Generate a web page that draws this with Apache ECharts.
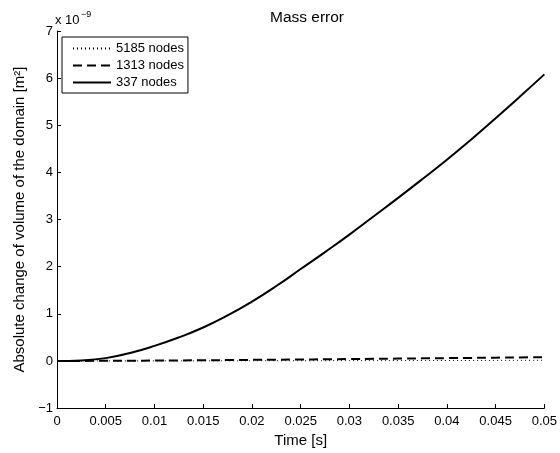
<!DOCTYPE html>
<html>
<head>
<meta charset="utf-8">
<script src="https://cdn.jsdelivr.net/npm/echarts@6/dist/echarts.min.js"></script>
<style>html,body{margin:0;padding:0;background:#fff}#c{width:560px;height:453px}</style>
</head>
<body>
<div id="c"></div>
<script>
var times = [0, 0.0025, 0.005, 0.0075, 0.01, 0.0125, 0.015, 0.0175, 0.02, 0.0225, 0.025, 0.0275, 0.03, 0.0325, 0.035, 0.0375, 0.04, 0.0425, 0.045, 0.0475, 0.05];
var nodes5185 = [0, 0, 0.001, 0.001, 0.002, 0.002, 0.003, 0.003, 0.004, 0.005, 0.005, 0.006, 0.007, 0.007, 0.008, 0.009, 0.010, 0.011, 0.012, 0.013, 0.014];
var nodes1313 = [0, 0.001, 0.003, 0.005, 0.008, 0.011, 0.015, 0.019, 0.023, 0.027, 0.031, 0.035, 0.040, 0.045, 0.050, 0.055, 0.060, 0.065, 0.070, 0.075, 0.080];
var nodes337 = [0, 0.012, 0.06, 0.17, 0.32, 0.50, 0.71, 0.965, 1.26, 1.59, 1.95, 2.31, 2.68, 3.07, 3.46, 3.86, 4.27, 4.70, 5.15, 5.61, 6.08];
var seriesNames = ['5185 nodes', '1313 nodes', '337 nodes'];

function pairs(vals) { return times.map(function (t, i) { return [t, vals[i]]; }); }
var FONT = 'Liberation Sans, Arial, Helvetica, sans-serif';

var chart = echarts.init(document.getElementById('c'));
chart.setOption({
  animation: false,
  backgroundColor: '#fff',
  title: {
    text: 'Mass error', left: 302, top: 5, textAlign: 'center',
    textStyle: { fontFamily: FONT, fontSize: 15.5, fontWeight: 'normal', color: '#000' }
  },
  grid: { left: 57, right: 13, top: 31, bottom: 39 },
  legend: {
    orient: 'vertical', left: 62, top: 37,
    data: seriesNames,
    itemWidth: 38, itemHeight: 12, itemGap: 4,
    padding: [5, 4, 4, 10],
    borderColor: '#000', borderWidth: 1, backgroundColor: '#fff',
    itemStyle: { color: 'rgba(0,0,0,0)', borderWidth: 0, opacity: 0 },
    textStyle: { fontFamily: FONT, fontSize: 13, color: '#000' }
  },
  xAxis: {
    type: 'value', min: 0, max: 0.05, interval: 0.005,
    name: 'Time [s]', nameLocation: 'middle', nameGap: 19,
    nameTextStyle: { fontFamily: FONT, fontSize: 15, color: '#000' },
    axisLine: { onZero: false, lineStyle: { color: '#000', width: 1 } },
    axisTick: { inside: true, length: 4, lineStyle: { color: '#000' } },
    axisLabel: { margin: 7, fontFamily: FONT, fontSize: 13, color: '#000',
      formatter: function (v) { return String(+v.toFixed(4)); } },
    splitLine: { show: false }
  },
  yAxis: {
    type: 'value', min: -1, max: 7, interval: 1,
    name: 'Absolute change of volume of the domain [m\u00B2]', nameLocation: 'middle', nameGap: 22,
    nameTextStyle: { fontFamily: FONT, fontSize: 15, color: '#000' },
    axisLine: { show: true, onZero: false, lineStyle: { color: '#000', width: 1 } },
    axisTick: { show: true, inside: true, length: 4, lineStyle: { color: '#000' } },
    axisLabel: { margin: 4, fontFamily: FONT, fontSize: 13, color: '#000',
      formatter: function (v) { return String(v).replace('-', '\u2212'); } },
    splitLine: { show: false }
  },
  graphic: [
    { type: 'text', left: 55, top: 14, style: { text: 'x 10', font: '13px ' + FONT, fill: '#000' } },
    { type: 'text', left: 81, top: 10, style: { text: '\u22129', font: '9px ' + FONT, fill: '#000' } }
  ],
  series: [
    { name: seriesNames[0], type: 'line', symbol: 'none', showSymbol: false, smooth: 0.5, data: pairs(nodes5185),
      lineStyle: { color: '#000', width: 1, type: [1, 3] }, itemStyle: { color: '#000' } },
    { name: seriesNames[1], type: 'line', symbol: 'none', showSymbol: false, smooth: 0.5, data: pairs(nodes1313),
      lineStyle: { color: '#000', width: 2, type: [9, 5] }, itemStyle: { color: '#000' } },
    { name: seriesNames[2], type: 'line', symbol: 'none', showSymbol: false, smooth: 0.5, data: pairs(nodes337),
      lineStyle: { color: '#000', width: 2, type: 'solid' }, itemStyle: { color: '#000' } }
  ]
});
</script>
</body>
</html>
